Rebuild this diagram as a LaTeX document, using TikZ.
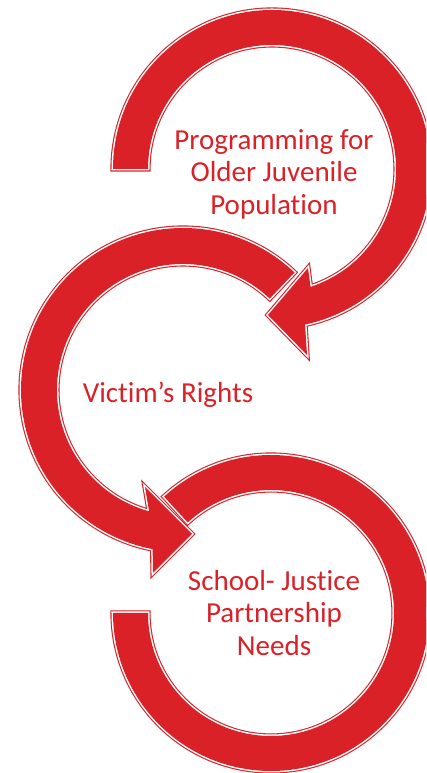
\documentclass[tikz,border=0pt]{standalone}
\usepackage{fontspec}
\setmainfont{Carlito}[Ligatures=NoCommon]
\usetikzlibrary{calc}
\definecolor{arrowred}{RGB}{218,33,40}
\begin{document}
\begin{tikzpicture}[x=1pt,y=1pt,
  band/.style={fill=arrowred,
    preaction={draw=arrowred, line width=5.2pt},
    preaction={draw=white, line width=3pt},
    line join=miter},
  captext/.style={text=arrowred, font=\fontsize{29}{32.5}\selectfont, align=center, inner sep=0pt}]
\clip (0,0) rectangle (426,773);
\fill[white] (0,0) rectangle (426,773);
\coordinate (C1) at (272,604);
\coordinate (C2) at (183,383);
\coordinate (C3) at (271,160);
% bottom circle
\path[band] ($(C3)+(132.6:158)$) arc[start angle=132.6, end angle=-180, radius=158]
  -- ($(C3)+(180:123)$) arc[start angle=-180, end angle=132.6, radius=123] -- cycle;
% middle circle
\path[band] ($(C2)+(46.5:162)$) arc[start angle=46.5, end angle=259.2, radius=162]
  -- (153,200) -- (192,239) -- (145,286)
  -- ($(C2)+(254.4:126)$) arc[start angle=254.4, end angle=46.5, radius=126] -- cycle;
% top circle
\path[band] ($(C1)+(180:159)$) arc[start angle=180, end angle=-78, radius=159]
  -- (307,418) -- (268,458) -- (308,505)
  -- ($(C1)+(-71.9:124)$) arc[start angle=-71.9, end angle=180, radius=124] -- cycle;
\node[captext] (t1) at (274,599) {Programming for\\Older Juvenile\\Population};
\node[captext] (t2) at (168,378) {Victim’s Rights};
\node[captext] (t3) at (274,160) {School- Justice\\Partnership\\Needs};
\end{tikzpicture}
\end{document}
